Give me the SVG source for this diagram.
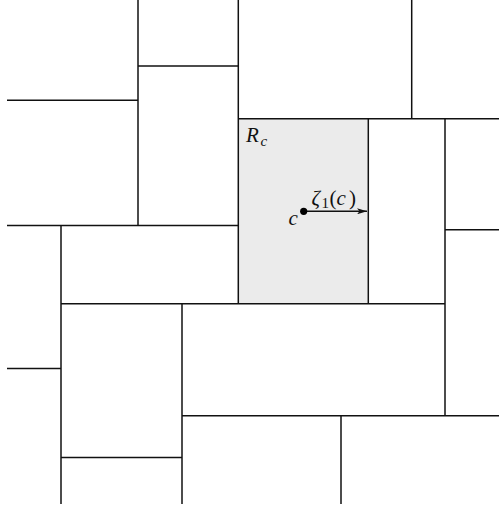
<svg xmlns="http://www.w3.org/2000/svg" width="499" height="505" viewBox="0 0 499 505">
<style>
.e{stroke:#111;stroke-width:1.5;fill:none;stroke-linecap:butt}
.m{font-family:"Liberation Serif","DejaVu Serif",serif;fill:#111}
.i{font-style:italic}
</style>
<defs>
<marker id="ah" viewBox="0 0 10 6" refX="10" refY="3" markerWidth="10" markerHeight="6" markerUnits="userSpaceOnUse" orient="auto">
<path d="M0,0 L10,3 L0,6 L2.5,3 Z" fill="#111"/>
</marker>
</defs>
<rect id="Rc" x="238.3" y="118.7" width="130" height="184.8" fill="#ebebeb"/>
<g id="edges">
<line class="e" x1="138" y1="0" x2="138" y2="226"/>
<line class="e" x1="238.3" y1="0" x2="238.3" y2="304"/>
<line class="e" x1="411.7" y1="0" x2="411.7" y2="119"/>
<line class="e" x1="368.3" y1="119" x2="368.3" y2="304"/>
<line class="e" x1="445" y1="119" x2="445" y2="416"/>
<line class="e" x1="61" y1="225.5" x2="61" y2="504"/>
<line class="e" x1="182" y1="304" x2="182" y2="504"/>
<line class="e" x1="341" y1="416" x2="341" y2="504"/>
<line class="e" x1="7" y1="100.3" x2="138" y2="100.3"/>
<line class="e" x1="138" y1="66" x2="238.3" y2="66"/>
<line class="e" x1="238.3" y1="118.7" x2="499" y2="118.7"/>
<line class="e" x1="7" y1="225.5" x2="238.3" y2="225.5"/>
<line class="e" x1="445" y1="229.7" x2="499" y2="229.7"/>
<line class="e" x1="61" y1="303.8" x2="445" y2="303.8"/>
<line class="e" x1="7" y1="368.5" x2="61" y2="368.5"/>
<line class="e" x1="182" y1="415.8" x2="499" y2="415.8"/>
<line class="e" x1="61" y1="457.5" x2="182" y2="457.5"/>
</g>
<g id="labels">
<text class="m" x="246" y="142" font-size="21"><tspan class="i">R</tspan><tspan class="i" font-size="15" x="260.5" y="145.5">c</tspan></text>
<text class="m i" x="288.5" y="225" font-size="21">c</text>
<text class="m" y="205" font-size="21"><tspan class="i" x="311.5">ζ</tspan><tspan font-size="15" x="321.5" y="208">1</tspan><tspan x="329.5" y="205">(</tspan><tspan class="i" x="336.5">c</tspan><tspan x="349">)</tspan></text>
</g>
<g id="arrow">
<line class="e" x1="303.7" y1="211.3" x2="367" y2="211.3" stroke-width="1" marker-end="url(#ah)"/>
<circle cx="303.7" cy="211.3" r="3.6" fill="#000"/>
</g>
</svg>
